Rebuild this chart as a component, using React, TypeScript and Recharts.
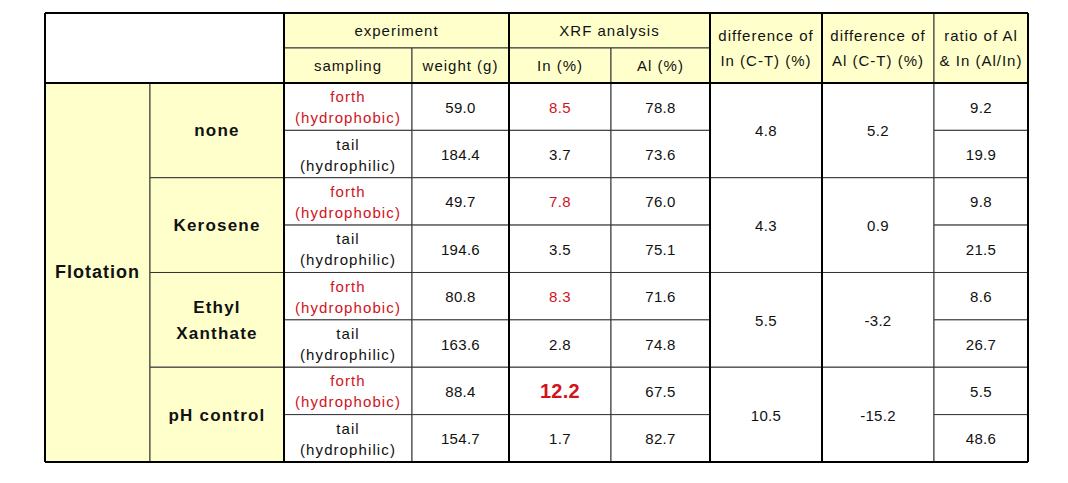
import { ComposedChart, XAxis, YAxis, ReferenceArea, ReferenceLine, Scatter } from "recharts";

// table content
const method = "Flotation";
const reagents = ["none", "Kerosene", "Ethyl\nXanthate", "pH control"];
const samplings = ["forth\n(hydrophobic)", "tail\n(hydrophilic)"];
const groupHeaders = ["experiment", "XRF analysis"];
const subHeaders = ["sampling", "weight (g)", "In (%)", "Al (%)"];
const sideHeaders = ["difference of\nIn (C-T) (%)", "difference of\nAl (C-T) (%)", "ratio of Al\n& In (Al/In)"];
const weightG = [59.0, 184.4, 49.7, 194.6, 80.8, 163.6, 88.4, 154.7];
const inPct = [8.5, 3.7, 7.8, 3.5, 8.3, 2.8, 12.2, 1.7];
const alPct = [78.8, 73.6, 76.0, 75.1, 71.6, 74.8, 67.5, 82.7];
const diffIn = [4.8, 4.3, 5.5, 10.5];
const diffAl = [5.2, 0.9, -3.2, -15.2];
const ratioAlIn = [9.2, 19.9, 9.8, 21.5, 8.6, 26.7, 5.5, 48.6];
const highlightIn = 12.2;

// layout (px units on the axes)
const colW = [105, 134, 128, 97, 102, 99, 112, 112, 94];
const rowH = [35, 35, 47.4, 47.4, 47.4, 47.4, 47.4, 47.4, 47.4, 47.4];
const cum = (a: number[]) => a.reduce((acc, v) => [...acc, acc[acc.length - 1] + v], [0]);
const xE = cum(colW);
const yE = cum(rowH);
const W = xE[xE.length - 1];
const H = yE[yE.length - 1];

const YELLOW = "#ffffcc";
const RED = "#d0141c";
const INK = "#111";
const FONT = "'Liberation Sans', Arial, sans-serif";

type Cell = { c0: number; c1: number; r0: number; r1: number; fill: string };
type Label = { x: number; y: number; text: string; color: string; size: number; bold: boolean; ls: number; lh: number };

const cells: Cell[] = [];
const labels: Label[] = [];

function add(c0: number, c1: number, r0: number, r1: number, fill: string, text: string, opts: Partial<Label> = {}) {
  cells.push({ c0, c1, r0, r1, fill });
  if (!text) return;
  labels.push({
    x: (xE[c0] + xE[c1 + 1]) / 2,
    y: (yE[r0] + yE[r1 + 1]) / 2,
    text,
    color: INK,
    size: 15,
    bold: false,
    ls: 0.3,
    lh: 21,
    ...opts,
  });
}

const hdr = { ls: 1, lh: 25 };
add(0, 1, 0, 1, "#fff", "");
add(2, 3, 0, 0, YELLOW, groupHeaders[0], hdr);
add(4, 5, 0, 0, YELLOW, groupHeaders[1], hdr);
sideHeaders.forEach((t, i) => add(6 + i, 6 + i, 0, 1, YELLOW, t, hdr));
subHeaders.forEach((t, i) => add(2 + i, 2 + i, 1, 1, YELLOW, t, hdr));

add(0, 0, 2, 9, YELLOW, method, { size: 18, bold: true, ls: 1 });
reagents.forEach((r, g) => {
  const r0 = 2 + g * 2;
  add(1, 1, r0, r0 + 1, YELLOW, r, { size: 17, bold: true, ls: 1.2, lh: 26 });
  add(6, 6, r0, r0 + 1, "#fff", diffIn[g].toFixed(1));
  add(7, 7, r0, r0 + 1, "#fff", diffAl[g].toFixed(1));
});
weightG.forEach((w, i) => {
  const row = 2 + i;
  const forth = i % 2 === 0;
  add(2, 2, row, row, "#fff", samplings[i % 2], { color: forth ? RED : INK, ls: 1.1, lh: 21 });
  add(3, 3, row, row, "#fff", w.toFixed(1));
  const big = inPct[i] === highlightIn;
  add(4, 4, row, row, "#fff", inPct[i].toFixed(1), {
    color: forth ? RED : INK,
    size: big ? 20 : 15,
    bold: big,
  });
  add(5, 5, row, row, "#fff", alPct[i].toFixed(1));
  add(8, 8, row, row, "#fff", ratioAlIn[i].toFixed(1));
});

const thickV = [0, 2, 4, 6, 7, 9];
const thickH = [0, 2, 10];

function CellText(props: any) {
  const { cx, cy, payload } = props;
  const p = payload as Label;
  const lines = p.text.split("\n");
  const y0 = cy - ((lines.length - 1) * p.lh) / 2;
  return (
    <text
      textAnchor="middle"
      dominantBaseline="central"
      fontFamily={FONT}
      fontSize={p.size}
      fontWeight={p.bold ? 700 : 400}
      letterSpacing={p.ls}
      fill={p.color}
    >
      {lines.map((l, i) => (
        <tspan key={i} x={cx} y={y0 + i * p.lh} dominantBaseline="central">
          {l}
        </tspan>
      ))}
    </text>
  );
}

export default function App() {
  return (
    <div style={{ position: "absolute", left: 0, top: 0, background: "#fff" }}>
      <ComposedChart width={1068} height={483} margin={{ top: 13, right: 40, bottom: 21, left: 45 }}>
        <XAxis type="number" dataKey="x" domain={[0, W]} hide allowDataOverflow />
        <YAxis type="number" dataKey="y" domain={[0, H]} reversed hide allowDataOverflow />
        {cells.map((c, i) => (
          <ReferenceArea
            key={i}
            x1={xE[c.c0]}
            x2={xE[c.c1 + 1]}
            y1={yE[c.r0]}
            y2={yE[c.r1 + 1]}
            fill={c.fill}
            fillOpacity={1}
            stroke="#333"
            strokeWidth={1}
            ifOverflow="visible"
          />
        ))}
        {thickV.map((ci) => (
          <ReferenceLine
            key={"v" + ci}
            segment={[{ x: xE[ci], y: 0 }, { x: xE[ci], y: H }]}
            stroke="#000"
            strokeWidth={2}
            ifOverflow="visible"
          />
        ))}
        {thickH.map((ri) => (
          <ReferenceLine
            key={"h" + ri}
            segment={[{ x: 0, y: yE[ri] }, { x: W, y: yE[ri] }]}
            stroke="#000"
            strokeWidth={2}
            ifOverflow="visible"
          />
        ))}
        <Scatter data={labels} dataKey="y" shape={CellText} isAnimationActive={false} />
      </ComposedChart>
    </div>
  );
}
